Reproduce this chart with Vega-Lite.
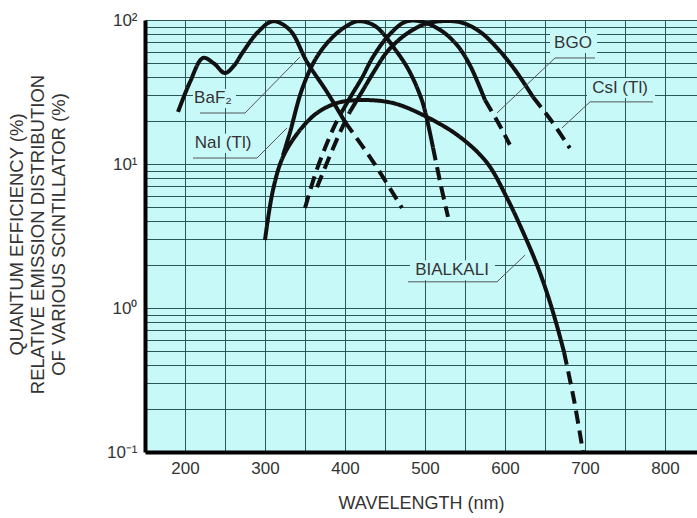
{
  "$schema": "https://vega.github.io/schema/vega-lite/v6.json",
  "autosize": {"type": "none"},
  "padding": {"left": 145, "top": 20, "right": 0, "bottom": 66},
  "width": 552,
  "height": 432,
  "background": "white",
  "config": {
    "view": {"fill": "#c8f9f9", "stroke": null},
    "font": "Liberation Sans",
    "axis": {
      "grid": true,
      "gridColor": "#2a5858",
      "gridWidth": 1,
      "ticks": false,
      "domainColor": "#000000",
      "domainWidth": 4,
      "labelFont": "Liberation Sans",
      "labelFontSize": 17,
      "labelColor": "#333333",
      "labelFlush": false,
      "labelOverlap": false,
      "titleFont": "Liberation Sans",
      "titleFontWeight": "normal",
      "titleColor": "#333333"
    }
  },
  "datasets": {
    "curves": [
      {"p": "BaF2-a", "seg": "solid", "x": 191.25, "y": 23.0},
      {"p": "BaF2-a", "seg": "solid", "x": 206.25, "y": 37.1},
      {"p": "BaF2-a", "seg": "solid", "x": 222.5, "y": 54.5},
      {"p": "BaF2-a", "seg": "solid", "x": 236, "y": 50.0},
      {"p": "BaF2-a", "seg": "solid", "x": 250, "y": 42.8},
      {"p": "BaF2-a", "seg": "solid", "x": 261, "y": 48},
      {"p": "BaF2-a", "seg": "solid", "x": 272.5, "y": 60},
      {"p": "BaF2-a", "seg": "solid", "x": 291.25, "y": 82.5},
      {"p": "BaF2-a", "seg": "solid", "x": 310, "y": 98},
      {"p": "BaF2-a", "seg": "solid", "x": 331, "y": 85.3},
      {"p": "BaF2-a", "seg": "solid", "x": 352.5, "y": 51.1},
      {"p": "BaF2-a", "seg": "solid", "x": 377.5, "y": 31.6},
      {"p": "BaF2-a", "seg": "solid", "x": 400, "y": 19.6},
      {"p": "BaF2-b", "seg": "dashed", "x": 400, "y": 19.6},
      {"p": "BaF2-b", "seg": "dashed", "x": 435, "y": 10.4},
      {"p": "BaF2-b", "seg": "dashed", "x": 471.25, "y": 4.95},

      {"p": "NaI-a", "seg": "solid", "x": 322.5, "y": 11.5},
      {"p": "NaI-a", "seg": "solid", "x": 331, "y": 16.4},
      {"p": "NaI-a", "seg": "solid", "x": 346, "y": 32.7},
      {"p": "NaI-a", "seg": "solid", "x": 362.5, "y": 52.7},
      {"p": "NaI-a", "seg": "solid", "x": 381, "y": 72.6},
      {"p": "NaI-a", "seg": "solid", "x": 400, "y": 89.4},
      {"p": "NaI-a", "seg": "solid", "x": 416, "y": 98},
      {"p": "NaI-a", "seg": "solid", "x": 437.5, "y": 90.9},
      {"p": "NaI-a", "seg": "solid", "x": 465, "y": 59.9},
      {"p": "NaI-a", "seg": "solid", "x": 481, "y": 43.5},
      {"p": "NaI-a", "seg": "solid", "x": 496, "y": 27.8},
      {"p": "NaI-a", "seg": "solid", "x": 503, "y": 19.8},
      {"p": "NaI-a", "seg": "solid", "x": 510, "y": 13.0},
      {"p": "NaI-b", "seg": "dashed", "x": 510, "y": 13.0},
      {"p": "NaI-b", "seg": "dashed", "x": 519.4, "y": 7.3},
      {"p": "NaI-b", "seg": "dashed", "x": 528.75, "y": 4.29},

      {"p": "BIALKALI-a", "seg": "solid", "x": 300, "y": 2.97},
      {"p": "BIALKALI-a", "seg": "solid", "x": 310, "y": 6.6},
      {"p": "BIALKALI-a", "seg": "solid", "x": 322.5, "y": 11.2},
      {"p": "BIALKALI-a", "seg": "solid", "x": 343.75, "y": 17.2},
      {"p": "BIALKALI-a", "seg": "solid", "x": 365, "y": 22.6},
      {"p": "BIALKALI-a", "seg": "solid", "x": 390, "y": 26.5},
      {"p": "BIALKALI-a", "seg": "solid", "x": 418.75, "y": 27.8},
      {"p": "BIALKALI-a", "seg": "solid", "x": 460, "y": 26.5},
      {"p": "BIALKALI-a", "seg": "solid", "x": 502.5, "y": 21.2},
      {"p": "BIALKALI-a", "seg": "solid", "x": 543.75, "y": 15.4},
      {"p": "BIALKALI-a", "seg": "solid", "x": 577.5, "y": 10.2},
      {"p": "BIALKALI-a", "seg": "solid", "x": 602.5, "y": 5.81},
      {"p": "BIALKALI-a", "seg": "solid", "x": 622.5, "y": 3.37},
      {"p": "BIALKALI-a", "seg": "solid", "x": 640, "y": 1.99},
      {"p": "BIALKALI-a", "seg": "solid", "x": 653.75, "y": 1.21},
      {"p": "BIALKALI-a", "seg": "solid", "x": 665, "y": 0.75},
      {"p": "BIALKALI-a", "seg": "solid", "x": 673.75, "y": 0.495},
      {"p": "BIALKALI-b", "seg": "dashed", "x": 673.75, "y": 0.495},
      {"p": "BIALKALI-b", "seg": "dashed", "x": 686.25, "y": 0.23},
      {"p": "BIALKALI-b", "seg": "dashed", "x": 697.5, "y": 0.1},

      {"p": "BGO-a", "seg": "dashed", "x": 350, "y": 4.95},
      {"p": "BGO-a", "seg": "dashed", "x": 362.5, "y": 8.4},
      {"p": "BGO-a", "seg": "dashed", "x": 375, "y": 12.9},
      {"p": "BGO-a", "seg": "dashed", "x": 387.5, "y": 18.7},
      {"p": "BGO-a", "seg": "dashed", "x": 396, "y": 23.0},
      {"p": "BGO-b", "seg": "solid", "x": 396, "y": 23.0},
      {"p": "BGO-b", "seg": "solid", "x": 406, "y": 28.7},
      {"p": "BGO-b", "seg": "solid", "x": 421, "y": 39.5},
      {"p": "BGO-b", "seg": "solid", "x": 435, "y": 55.4},
      {"p": "BGO-b", "seg": "solid", "x": 454, "y": 77.4},
      {"p": "BGO-b", "seg": "solid", "x": 475, "y": 96.9},
      {"p": "BGO-b", "seg": "solid", "x": 494, "y": 98},
      {"p": "BGO-b", "seg": "solid", "x": 519, "y": 85.3},
      {"p": "BGO-b", "seg": "solid", "x": 540, "y": 67},
      {"p": "BGO-b", "seg": "solid", "x": 556, "y": 48.7},
      {"p": "BGO-b", "seg": "solid", "x": 575, "y": 27.8},
      {"p": "BGO-c", "seg": "dashed", "x": 575, "y": 27.8},
      {"p": "BGO-c", "seg": "dashed", "x": 591, "y": 19.6},
      {"p": "BGO-c", "seg": "dashed", "x": 606, "y": 13.6},

      {"p": "CsI-a", "seg": "dashed", "x": 365, "y": 6.9},
      {"p": "CsI-a", "seg": "dashed", "x": 379, "y": 10.7},
      {"p": "CsI-a", "seg": "dashed", "x": 394, "y": 16.7},
      {"p": "CsI-a", "seg": "dashed", "x": 406, "y": 23.0},
      {"p": "CsI-b", "seg": "solid", "x": 406, "y": 23.0},
      {"p": "CsI-b", "seg": "solid", "x": 421, "y": 31.6},
      {"p": "CsI-b", "seg": "solid", "x": 437.5, "y": 45},
      {"p": "CsI-b", "seg": "solid", "x": 452.5, "y": 60},
      {"p": "CsI-b", "seg": "solid", "x": 475, "y": 78.7},
      {"p": "CsI-b", "seg": "solid", "x": 500, "y": 93.8},
      {"p": "CsI-b", "seg": "solid", "x": 525, "y": 98.4},
      {"p": "CsI-b", "seg": "solid", "x": 547.5, "y": 95.3},
      {"p": "CsI-b", "seg": "solid", "x": 569, "y": 82.6},
      {"p": "CsI-b", "seg": "solid", "x": 590, "y": 64},
      {"p": "CsI-b", "seg": "solid", "x": 612.5, "y": 45},
      {"p": "CsI-b", "seg": "solid", "x": 635, "y": 29.2},
      {"p": "CsI-c", "seg": "dashed", "x": 635, "y": 29.2},
      {"p": "CsI-c", "seg": "dashed", "x": 659, "y": 19.6},
      {"p": "CsI-c", "seg": "dashed", "x": 681, "y": 12.9}
    ],
    "leaders": [
      {"s": "BaF2", "o": 1, "x": 218.75, "y": 22.6},
      {"s": "BaF2", "o": 2, "x": 275, "y": 22.6},
      {"s": "BaF2", "o": 3, "x": 343.75, "y": 55.4},
      {"s": "NaI", "o": 1, "x": 210, "y": 11.0},
      {"s": "NaI", "o": 2, "x": 290, "y": 11.0},
      {"s": "NaI", "o": 3, "x": 327.5, "y": 17.8},
      {"s": "BGO", "o": 1, "x": 712.5, "y": 54.5},
      {"s": "BGO", "o": 2, "x": 662.5, "y": 54.5},
      {"s": "BGO", "o": 3, "x": 590, "y": 22.6},
      {"s": "CsI", "o": 1, "x": 785, "y": 27.0},
      {"s": "CsI", "o": 2, "x": 706.25, "y": 27.0},
      {"s": "CsI", "o": 3, "x": 671.25, "y": 17.8},
      {"s": "BIALKALI", "o": 1, "x": 478.75, "y": 1.52},
      {"s": "BIALKALI", "o": 2, "x": 590, "y": 1.52},
      {"s": "BIALKALI", "o": 3, "x": 625, "y": 2.33}
    ],
    "labels": [
      {"text": "BaF₂", "x": 235, "y": 28.7, "x1": 210, "x2": 263.75, "y1": 33.2, "y2": 24.5},
      {"text": "NaI (Tl)", "x": 247.5, "y": 14.0, "x1": 206.25, "x2": 290, "y1": 16.2, "y2": 11.9},
      {"text": "BGO", "x": 685, "y": 69.2, "x1": 656.25, "x2": 715, "y1": 81.3, "y2": 59.0},
      {"text": "CsI (Tl)", "x": 743.75, "y": 33.7, "x1": 702.5, "x2": 787.5, "y1": 39.6, "y2": 28.7},
      {"text": "BIALKALI", "x": 533.75, "y": 1.84, "x1": 481.25, "x2": 587.5, "y1": 2.15, "y2": 1.56}
    ]
  },
  "layer": [
    {
      "data": {"name": "labels"},
      "mark": {"type": "rect", "fill": "#c8f9f9"},
      "encoding": {
        "x": {"field": "x1", "type": "quantitative",
          "scale": {"domain": [150, 840], "nice": false, "zero": false},
          "axis": {
            "values": [200, 250, 300, 350, 400, 450, 500, 550, 600, 650, 700, 750, 800],
            "labelExpr": "datum.value % 100 == 0 ? datum.label : ''",
            "labelPadding": 8,
            "title": "WAVELENGTH (nm)",
            "titleFontSize": 18,
            "titlePadding": 18
          }
        },
        "x2": {"field": "x2"},
        "y": {"field": "y1", "type": "quantitative",
          "scale": {"type": "log", "domain": [0.1, 100], "nice": false},
          "axis": {
            "values": [0.1, 0.2, 0.3, 0.4, 0.5, 0.6, 0.7, 0.8, 0.9, 1, 2, 3, 4, 5, 6, 7, 8, 9, 10, 20, 30, 40, 50, 60, 70, 80, 90, 100],
            "labelExpr": "datum.value == 100 ? '10²' : datum.value == 10 ? '10¹' : datum.value == 1 ? '10⁰' : datum.value == 0.1 ? '10⁻¹' : ''",
            "labelPadding": 8,
            "title": ["QUANTUM EFFICIENCY (%)", "RELATIVE EMISSION DISTRIBUTION", "OF VARIOUS SCINTILLATOR (%)"],
            "titleFontSize": 18.5,
            "titleLineHeight": 21,
            "titleAngle": -90,
            "titleBaseline": "top",
            "titleAlign": "center",
            "titleX": -138,
            "titleY": 214
          }
        },
        "y2": {"field": "y2"}
      }
    },
    {
      "data": {"name": "curves"},
      "mark": {"type": "line", "interpolate": "catmull-rom", "color": "#111111", "strokeWidth": 4, "strokeCap": "butt", "clip": true},
      "encoding": {
        "x": {"field": "x", "type": "quantitative"},
        "y": {"field": "y", "type": "quantitative"},
        "detail": {"field": "p"},
        "strokeDash": {"field": "seg", "type": "nominal",
          "scale": {"domain": ["solid", "dashed"], "range": [[1, 0], [13, 7]]},
          "legend": null}
      }
    },
    {
      "data": {"name": "leaders"},
      "mark": {"type": "line", "color": "#555555", "strokeWidth": 1},
      "encoding": {
        "x": {"field": "x", "type": "quantitative"},
        "y": {"field": "y", "type": "quantitative"},
        "detail": {"field": "s"},
        "order": {"field": "o"}
      }
    },
    {
      "data": {"name": "labels"},
      "mark": {"type": "text", "font": "Liberation Sans", "fontSize": 17, "color": "#333333", "align": "center", "baseline": "middle"},
      "encoding": {
        "x": {"field": "x", "type": "quantitative"},
        "y": {"field": "y", "type": "quantitative"},
        "text": {"field": "text"}
      }
    },
    {
      "mark": {"type": "rule", "color": "#000000", "strokeWidth": 4},
      "encoding": {"y": {"datum": 100}}
    }
  ]
}
